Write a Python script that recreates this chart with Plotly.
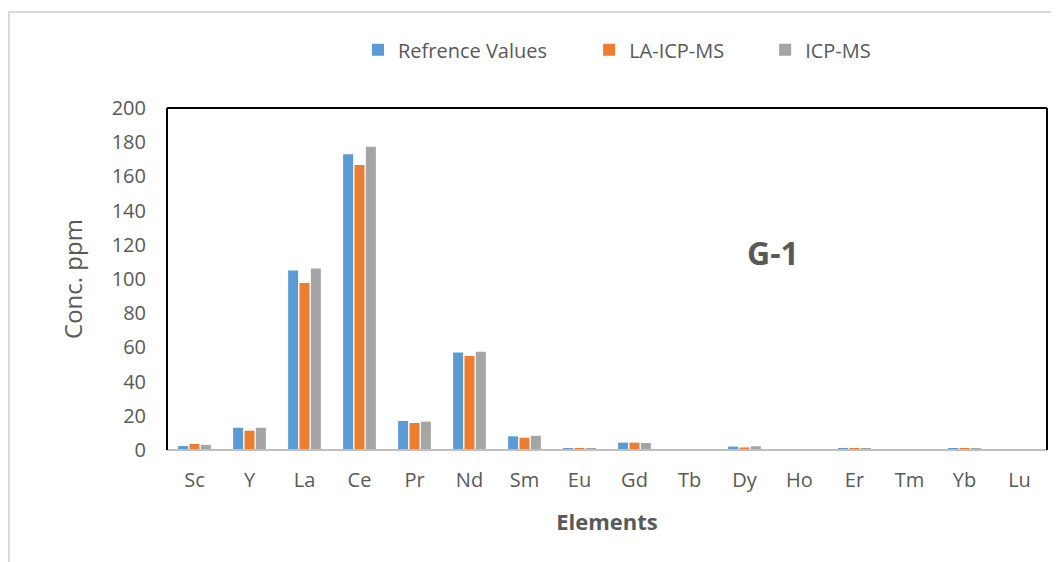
import plotly.graph_objects as go

elements = ["Sc", "Y", "La", "Ce", "Pr", "Nd", "Sm", "Eu", "Gd", "Tb", "Dy", "Ho", "Er", "Tm", "Yb", "Lu"]
ref_values = [2.3, 13.0, 105.0, 173.0, 17.0, 57.0, 8.0, 1.0, 4.3, 0.3, 2.0, 0.3, 1.0, 0.1, 0.7, 0.1]
la_icp_ms = [3.5, 11.3, 97.7, 166.7, 15.8, 55.0, 7.2, 0.9, 4.3, 0.3, 1.5, 0.3, 0.9, 0.1, 0.6, 0.1]
icp_ms = [3.0, 13.0, 106.2, 177.4, 16.6, 57.5, 8.3, 0.9, 4.1, 0.3, 2.2, 0.3, 0.9, 0.1, 0.6, 0.1]

series = [
    ("Refrence Values", ref_values, "#5b9bd5", "legend"),
    ("LA-ICP-MS", la_icp_ms, "#ed7d31", "legend2"),
    ("ICP-MS", icp_ms, "#a5a5a5", "legend3"),
]

fig = go.Figure()
for name, vals, col, lg in series:
    fig.add_trace(go.Bar(x=elements, y=vals, name=name, legend=lg, showlegend=True,
                         marker=dict(color=col, line=dict(width=0))))

font_family = "Open Sans, Liberation Sans, sans-serif"
txt = "#595959"
leg_common = dict(orientation="h", yanchor="middle", y=1.17, xanchor="left",
                  bgcolor="rgba(0,0,0,0)", font=dict(size=20, color=txt), itemwidth=30,
                  visible=True)

fig.update_layout(
    width=1051, height=554,
    margin=dict(l=159, r=12, t=100, b=112, autoexpand=False),
    paper_bgcolor="white", plot_bgcolor="white",
    showlegend=True,
    barmode="group", bargap=0.38, bargroupgap=0.12,
    font=dict(family=font_family, size=20, color=txt),
    legend=dict(x=0.217, **leg_common),
    legend2=dict(x=0.4797, **leg_common),
    legend3=dict(x=0.6797, **leg_common),
    xaxis=dict(showgrid=False, showline=False, ticks="", tickfont=dict(size=20, color=txt),
               title=dict(text="<b>Elements</b>", font=dict(size=22, color=txt), standoff=22),
               ticklabelstandoff=16),
    yaxis=dict(range=[0, 200], dtick=20, showgrid=False, showline=False, ticks="",
               tickfont=dict(size=20, color=txt), ticklabelstandoff=20, zeroline=False,
               title=dict(text="Conc. ppm", font=dict(size=24, color=txt), standoff=22)),
    annotations=[dict(text="<b>G-1</b>", x=(773 - 167) / 880, y=(450 - 252) / 342,
                      xref="paper", yref="paper", xanchor="center", yanchor="middle",
                      showarrow=False, font=dict(size=32, color=txt))],
    shapes=[
        dict(type="rect", xref="paper", yref="paper", x0=-0.1795, x1=1.05, y0=-0.4, y1=1.2807,
             line=dict(color="#d9d9d9", width=2), layer="below"),
        dict(type="line", xref="paper", yref="paper", x0=0, x1=1, y0=0, y1=0,
             line=dict(color="#bfbfbf", width=2)),
        dict(type="line", xref="paper", yref="paper", x0=0, x1=0, y0=0, y1=1,
             line=dict(color="black", width=2)),
        dict(type="line", xref="paper", yref="paper", x0=0, x1=1, y0=1, y1=1,
             line=dict(color="black", width=2)),
        dict(type="line", xref="paper", yref="paper", x0=1, x1=1, y0=0, y1=1,
             line=dict(color="black", width=2)),
    ],
)

fig.write_html("out.html")
